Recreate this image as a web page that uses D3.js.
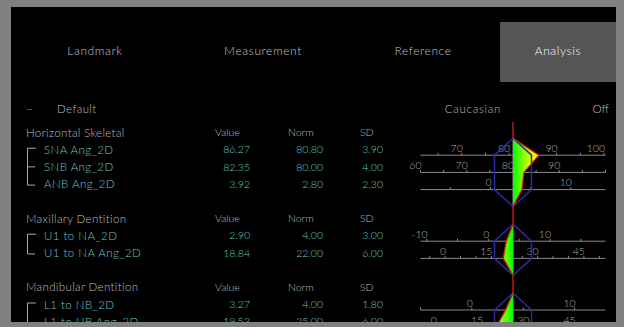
<!DOCTYPE html>
<html>
<head>
<meta charset="utf-8">
<script src="https://cdn.jsdelivr.net/npm/d3@7"></script>
<style>
body { margin: 0; background: #808080; }
svg { display: block; }
text { font-family: Lato, 'Open Sans', sans-serif; font-weight: 300; }
</style>
</head>
<body>
<svg width="624" height="327"></svg>
<script>
let tabs = ['Landmark', 'Measurement', 'Reference', 'Analysis']
let tabCenters = [95, 263, 423, 558]

let sectionNames = ['Horizontal Skeletal', 'Maxillary Dentition', 'Mandibular Dentition']
let measureNames = [
    ['SNA Ang_2D', 'SNB Ang_2D', 'ANB Ang_2D'],
    ['U1 to NA_2D', 'U1 to NA Ang_2D'],
    ['L1 to NB_2D', 'L1 to NB Ang_2D']
]
let values = [[86.27, 82.35, 3.92], [2.90, 18.84], [3.27, 19.53]]
let norms = [[80.80, 80.00, 2.80], [4.00, 22.00], [4.00, 25.00]]
let sds = [[3.90, 4.00, 2.30], [3.00, 6.00], [1.80, 6.00]]
let labelSteps = [[10, 10, 10], [10, 15], [10, 15]]
let minorStep = 5

let svg = d3.select('svg')
let W = 624, H = 327

// black panel
svg.append('rect').attr('x', 0).attr('y', 0).attr('width', W).attr('height', H).attr('fill', '#000')

// tabs
svg.append('rect').attr('x', 500).attr('y', 22).attr('width', 116).attr('height', 60).attr('fill', '#555')
svg.selectAll('text.tab')
    .data(tabs)
    .enter()
    .append('text')
    .attr('class', 'tab')
    .attr('x', (d, i) => tabCenters[i])
    .attr('y', 51)
    .attr('dy', '0.35em')
    .attr('text-anchor', 'middle')
    .attr('font-size', 12)
    .attr('letter-spacing', 0.6)
    .attr('fill', (d, i) => i == 3 ? '#ffffff' : '#c4c4c4')
    .text(d => d)

let grey = '#bdbdbd'
let teal = '#66c8c8'

svg.append('text').attr('x', 26).attr('y', 109).attr('dy', '0.35em').attr('font-size', 12).attr('fill', grey).text('–')
svg.append('text').attr('x', 57).attr('y', 109).attr('dy', '0.35em').attr('font-size', 11.5).attr('letter-spacing', 0.4).attr('fill', grey).text('Default')
svg.append('text').attr('x', 473).attr('y', 109).attr('dy', '0.35em').attr('text-anchor', 'middle').attr('font-size', 11.5).attr('letter-spacing', 0.7).attr('fill', grey).text('Caucasian')
svg.append('text').attr('x', 609).attr('y', 109).attr('dy', '0.35em').attr('text-anchor', 'end').attr('font-size', 11.5).attr('fill', grey).text('Off')

// gradient for the value fill
let cx = 513
let sdPx = 18.5
let grad = svg.append('defs').append('linearGradient')
    .attr('id', 'fillGrad')
    .attr('gradientUnits', 'userSpaceOnUse')
    .attr('x1', cx - 30).attr('x2', cx + 30).attr('y1', 0).attr('y2', 0)
let stops = [[0, '#ffff00'], [0.2, '#e4ff00'], [0.4, '#50ff00'], [0.5, '#00ff00'], [0.6, '#50ff00'], [0.8, '#e4ff00'], [1, '#ffff00']]
stops.forEach(s => grad.append('stop').attr('offset', s[0]).attr('stop-color', s[1]))

let lineH = 17.2
let y = 132.5
let redPts = [[cx, 122]]
let chartLayer = svg.append('g')
let textLayer = svg.append('g')

sectionNames.forEach((name, si) => {
    let hy = y
    textLayer.append('text').attr('x', 26).attr('y', hy).attr('dy', '0.35em')
        .attr('font-size', 11.5).attr('letter-spacing', 0.35).attr('fill', grey).text(name)
    let heads = [['Value', 215], ['Norm', 288], ['SD', 360]]
    heads.forEach(h => textLayer.append('text').attr('x', h[1]).attr('y', hy).attr('dy', '0.35em')
        .attr('font-size', 10.5).attr('fill', grey).text(h[0]))

    let rows = measureNames[si].map((m, i) => ({
        name: m, value: values[si][i], norm: norms[si][i], sd: sds[si][i],
        step: labelSteps[si][i], y: hy + lineH * (i + 1)
    }))

    // bracket
    let b = textLayer.append('g').attr('stroke', '#a8a8a8').attr('stroke-width', 1).attr('fill', 'none')
    let by0 = rows[0].y - 1.5, by1 = rows[rows.length - 1].y + 1
    b.append('path').attr('d', `M36,${by0}H27.5V${by1}H35`)
    rows.slice(1, -1).forEach(r => b.append('path').attr('d', `M27.5,${r.y}H35`))

    rows.forEach(r => {
        textLayer.append('text').attr('x', 44).attr('y', r.y).attr('dy', '0.35em')
            .attr('font-size', 11.5).attr('letter-spacing', 0.45).attr('fill', teal).text(r.name)
        let cols = [[r.value, 250], [r.norm, 323], [r.sd, 383]]
        cols.forEach(c => textLayer.append('text').attr('x', c[1]).attr('y', r.y).attr('dy', '0.35em')
            .attr('text-anchor', 'end').attr('font-size', 10.5).attr('fill', teal).text(d3.format('.2f')(c[0])))

        r.ay = r.y + 5.5
        r.scale = d3.scaleLinear().domain([r.norm - 5 * r.sd, r.norm + 5 * r.sd]).range([cx - 5 * sdPx, cx + 5 * sdPx])
        let dom = r.scale.domain()
        chartLayer.append('line').attr('x1', r.scale(dom[0])).attr('x2', r.scale(dom[1]))
            .attr('y1', r.ay).attr('y2', r.ay).attr('stroke', '#8a8a8a').attr('stroke-width', 1)
        let minor = d3.range(Math.ceil(dom[0] / minorStep) * minorStep, dom[1] + 0.001, minorStep)
        chartLayer.selectAll(null).data(minor).enter().append('line')
            .attr('x1', d => r.scale(d)).attr('x2', d => r.scale(d))
            .attr('y1', r.ay - 2.5).attr('y2', r.ay).attr('stroke', '#8a8a8a')
        let labels = d3.range(Math.ceil(dom[0] / r.step) * r.step, dom[1] - 0.01, r.step)
        chartLayer.selectAll(null).data(labels).enter().append('text')
            .attr('x', d => r.scale(d) + 1).attr('y', r.ay - 7).attr('dy', '0.35em')
            .attr('text-anchor', 'end').attr('font-size', 10.5).attr('fill', '#b0b0b0').text(d => d)
    })

    let top = rows[0].ay - 17, bottom = rows[rows.length - 1].ay + 17
    let first = rows[0].ay, last = rows[rows.length - 1].ay
    // grey center line
    chartLayer.append('line').attr('x1', cx).attr('x2', cx).attr('y1', top).attr('y2', bottom)
        .attr('stroke', '#8a8a8a')
    // value fill
    let pts = [[cx, top]].concat(rows.map(r => [r.scale(r.value), r.ay]), [[cx, bottom]])
    chartLayer.append('path').attr('d', d3.line()(pts) + 'Z').attr('fill', 'url(#fillGrad)')
    // 1 SD hexagon
    let hex = [[cx, top], [cx - sdPx, first], [cx - sdPx, last], [cx, bottom], [cx + sdPx, last], [cx + sdPx, first]]
    chartLayer.append('path').attr('d', d3.line()(hex) + 'Z')
        .attr('fill', 'none').attr('stroke', '#2b2ba6').attr('stroke-width', 1.5)
    redPts = redPts.concat(pts)

    y = hy + lineH * (rows.length + 2)
})

chartLayer.append('path').attr('d', d3.line()(redPts)).attr('fill', 'none')
    .attr('stroke', '#d41a1a').attr('stroke-width', 1.3)

// frame
let frame = svg.append('g').attr('fill', '#808080')
frame.append('rect').attr('x', 0).attr('y', 0).attr('width', W).attr('height', 7)
frame.append('rect').attr('x', 0).attr('y', 322).attr('width', W).attr('height', 5)
frame.append('rect').attr('x', 0).attr('y', 0).attr('width', 11).attr('height', H)
frame.append('rect').attr('x', 616).attr('y', 0).attr('width', 8).attr('height', H)
</script>
</body>
</html>
